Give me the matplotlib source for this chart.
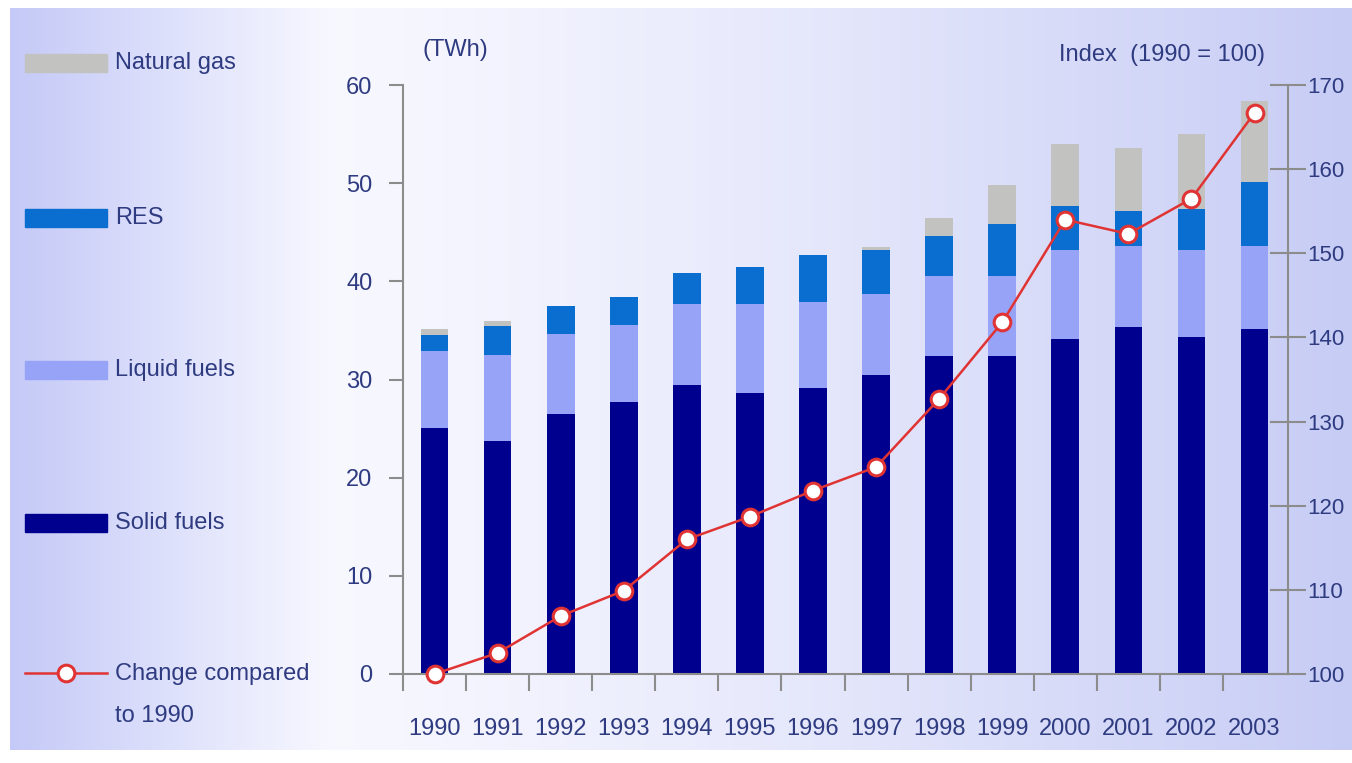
import numpy as np
import matplotlib.pyplot as plt
from matplotlib.patches import Rectangle
from matplotlib.lines import Line2D

plt.rcParams['font.family'] = ['Liberation Sans', 'DejaVu Sans']

years = ['1990', '1991', '1992', '1993', '1994', '1995', '1996',
         '1997', '1998', '1999', '2000', '2001', '2002', '2003']

# TWh, stacked from the bottom
solid = [25.1, 23.7, 26.5, 27.7, 29.4, 28.6, 29.1, 30.5, 32.4, 32.4, 34.1, 35.3, 34.3, 35.1]
liquid = [7.8, 8.8, 8.1, 7.9, 8.3, 9.1, 8.8, 8.2, 8.1, 8.1, 9.1, 8.3, 8.9, 8.5]
res = [1.6, 3.0, 2.9, 2.8, 3.1, 3.8, 4.8, 4.5, 4.1, 5.3, 4.5, 3.6, 4.2, 6.5]
gas = [0.6, 0.5, 0.0, 0.0, 0.0, 0.0, 0.0, 0.3, 1.9, 4.0, 6.3, 6.4, 7.6, 8.3]

# index 1990 = 100
index = [100, 102.5, 106.9, 109.9, 116.0, 118.7, 121.8, 124.6, 132.7, 141.8, 154.0, 152.3, 156.5, 166.7]

labels = ['Natural gas', 'RES', 'Liquid fuels', 'Solid fuels']
colors = ['#c2c2c0', '#0a6ed0', '#97a3f7', '#00008e']
txt_col = '#2e3b80'
ax_col = '#8c8c8c'
red = '#e03434'

W, H = 1352, 763
fig = plt.figure(figsize=(W / 100, H / 100), dpi=100)

# background panels (pixel coordinates)
bg = fig.add_axes([0, 0, 1, 1], zorder=-1)
bg.axis('off')
lav = np.array([0.77, 0.79, 0.97])
wht = np.array([0.97, 0.97, 1.0])
t = np.linspace(0, 1, 256)[None, :, None]
bg.imshow(lav + (wht - lav) * t, extent=(10, 330, 750, 8), aspect='auto')
bg.imshow(wht + (np.array([0.78, 0.80, 0.96]) - wht) * t ** 1.3,
          extent=(330, W, 750, 8), aspect='auto')

# legend drawn by hand on the background
leg_y = [63, 218, 370, 523]
for yy, lab, c in zip(leg_y, labels, colors):
    bg.add_patch(Rectangle((25, yy - 9), 82, 18, color=c))
    bg.text(115, yy, lab, color=txt_col, fontsize=17, va='center')
bg.add_line(Line2D([25, 107], [673, 673], color=red, lw=1.8))
bg.plot([66], [673], 'o', ms=12, mfc='white', mec=red, mew=2.2)
bg.text(115, 674, 'Change compared', color=txt_col, fontsize=17, va='center')
bg.text(115, 716, 'to 1990', color=txt_col, fontsize=17, va='center')
bg.set_xlim(0, W)
bg.set_ylim(H, 0)

ax = fig.add_axes([403 / W, 1 - 674 / H, (1288 - 403) / W, (674 - 85) / H])
ax.patch.set_visible(False)
x = np.arange(len(years))
bw = 0.44
bottom = np.zeros(len(years))
for vals, c in zip([solid, liquid, res, gas], colors[::-1]):
    ax.bar(x, vals, bw, bottom=bottom, color=c, zorder=2)
    bottom += np.array(vals)

ax.set_xlim(-0.5, 13.53)
ax.set_ylim(0, 60)
ax.set_yticks(range(0, 61, 10))
ax.set_xticks(np.arange(-0.5, 13.0, 1.0))
ax.set_xticklabels([])
ax.set_xticks(x, minor=True)
ax.set_xticklabels(years, minor=True)
ax.tick_params(axis='x', which='major', direction='out', length=12, width=1.5, color=ax_col)
ax.tick_params(axis='x', which='minor', length=0, pad=32, labelsize=17, labelcolor=txt_col)
ax.tick_params(axis='y', direction='out', length=10, width=1.5, color=ax_col,
               pad=12, labelsize=17, labelcolor=txt_col)
for s in ['top', 'right']:
    ax.spines[s].set_visible(False)
for s in ['left', 'bottom']:
    ax.spines[s].set_color(ax_col)
    ax.spines[s].set_linewidth(1.5)

ax2 = ax.twinx()
ax2.plot(x, index, color=red, lw=1.8, marker='o', ms=12, mfc='white',
         mec=red, mew=2.2, zorder=5, clip_on=False)
ax2.set_ylim(100, 170)
ax2.set_yticks(range(100, 171, 10))
ax2.tick_params(axis='y', direction='inout', length=26, width=1.5, color=ax_col,
                pad=1, labelsize=16, labelcolor=txt_col)
for s in ['top', 'left', 'bottom']:
    ax2.spines[s].set_visible(False)
ax2.spines['right'].set_color(ax_col)
ax2.spines['right'].set_linewidth(1.5)

fig.text(455 / W, 1 - 50 / H, '(TWh)', color=txt_col, fontsize=17, ha='center', va='center')
fig.text(1265 / W, 1 - 55 / H, 'Index  (1990 = 100)', color=txt_col, fontsize=17,
         ha='right', va='center')

fig.savefig('out.png', dpi=100)
